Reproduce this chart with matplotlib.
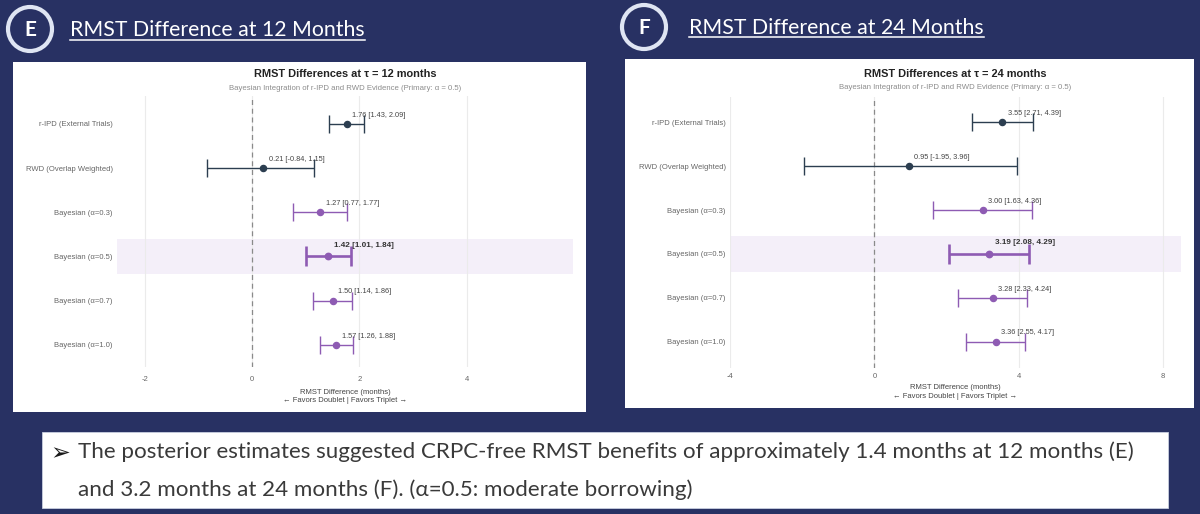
import matplotlib
matplotlib.use("Agg")
import matplotlib.pyplot as plt
from matplotlib.patches import Rectangle, Ellipse
from matplotlib.lines import Line2D
import numpy as np

plt.rcParams["axes.unicode_minus"] = False

# ---------------- data ----------------
categories = ["r-IPD (External Trials)", "RWD (Overlap Weighted)",
              "Bayesian (α=0.3)", "Bayesian (α=0.5)",
              "Bayesian (α=0.7)", "Bayesian (α=1.0)"]
source_type = ["data", "data", "bayes", "bayes", "bayes", "bayes"]
primary_idx = 3

est_12 = [1.76, 0.21, 1.27, 1.42, 1.50, 1.57]
lo_12 = [1.43, -0.84, 0.77, 1.01, 1.14, 1.26]
hi_12 = [2.09, 1.15, 1.77, 1.84, 1.86, 1.88]

est_24 = [3.55, 0.95, 3.00, 3.19, 3.28, 3.36]
lo_24 = [2.71, -1.95, 1.63, 2.08, 2.33, 2.55]
hi_24 = [4.39, 3.96, 4.36, 4.29, 4.24, 4.17]

xticks_12 = [-2, 0, 2, 4]
xticks_24 = [-4, 0, 4, 8]

heading_12 = "RMST Difference at 12 Months"
heading_24 = "RMST Difference at 24 Months"
title_12 = "RMST Differences at τ = 12 months"
title_24 = "RMST Differences at τ = 24 months"
subtitle = "Bayesian Integration of r-IPD and RWD Evidence (Primary: α = 0.5)"
xlabel = "RMST Difference (months)\n← Favors Doublet | Favors Triplet →"
bullet_line1 = "The posterior estimates suggested CRPC-free RMST benefits of approximately 1.4 months at 12 months (E)"
bullet_line2 = "and 3.2 months at 24 months (F). (α=0.5: moderate borrowing)"

# ---------------- style ----------------
W, H = 1200, 514
BG = "#283163"
DARK = "#2c3e50"
PURPLE = "#8e5bb3"
BAND = "#f4eff9"
CHART_FONT = ["Liberation Sans", "DejaVu Sans"]
SLIDE_FONT = ["Lato", "DejaVu Sans"]

fig = plt.figure(figsize=(W / 100, H / 100), dpi=100)
fig.patch.set_facecolor(BG)


def fx(x):
    return x / W


def fy(y):
    return 1 - y / H


def rect(x0, y0, x1, y1, **kw):
    fig.patches.append(Rectangle((fx(x0), fy(y1)), fx(x1) - fx(x0), fy(y0) - fy(y1),
                                 transform=fig.transFigure, **kw))


# white chart panels and text box (behind the axes)
rect(13, 62, 586, 412, facecolor="white", edgecolor="none", zorder=-2)
rect(625, 59, 1194, 408, facecolor="white", edgecolor="none", zorder=-2)
rect(42, 432, 1168, 508, facecolor="white", edgecolor="#c9cfe0", linewidth=0.6, zorder=-2)


def forest(ax_px, est, lo, hi, xlim, xticks, ylim, title, sub_off, title_off,
           xpad, lpad):
    x0, y0, x1, y1 = ax_px
    ax = fig.add_axes([fx(x0), fy(y1), fx(x1) - fx(x0), fy(y0) - fy(y1)])
    ax.set_facecolor("white")
    n = len(categories)
    y = np.arange(n)
    ax.axhspan(primary_idx - 0.4, primary_idx + 0.4, color=BAND, zorder=0, lw=0)
    ax.axvline(0, color="#8a8a8a", lw=0.9, ls=(0, (4, 3)), zorder=1)
    for i in range(n):
        prim = i == primary_idx
        c = DARK if source_type[i] == "data" else PURPLE
        ax.errorbar(est[i], y[i], xerr=[[est[i] - lo[i]], [hi[i] - est[i]]],
                    fmt="o", color=c, ecolor=c, ms=4.6 if prim else 4.4,
                    elinewidth=1.9 if prim else 1.0,
                    capsize=7 if prim else 6.5, capthick=1.9 if prim else 1.0,
                    zorder=3)
        ax.annotate(f"{est[i]:.2f} [{lo[i]:.2f}, {hi[i]:.2f}]",
                    xy=(est[i], y[i]), xytext=(4, 8.0 if prim else 6.3),
                    textcoords="offset points", ha="left", va="center",
                    fontsize=5.9 if prim else 5.3,
                    fontweight="bold" if prim else "normal",
                    color="#333333" if prim else "#444444", family=CHART_FONT)
    ax.set_xlim(*xlim)
    ax.set_ylim(*ylim)
    ax.set_xticks(xticks)
    ax.set_yticks(y)
    ax.set_yticklabels(categories)
    ax.grid(axis="x", color="#ebebeb", lw=0.8, zorder=0)
    ax.set_axisbelow(True)
    for s in ax.spines.values():
        s.set_visible(False)
    ax.tick_params(length=0, labelsize=5.5, labelcolor="#666666", pad=3)
    ax.tick_params(axis="x", pad=xpad)
    for lab in ax.get_xticklabels() + ax.get_yticklabels():
        lab.set_family(CHART_FONT)
    ax.set_xlabel(xlabel, fontsize=5.5, color="#444444", labelpad=lpad,
                  family=CHART_FONT, linespacing=1.35)
    ax.annotate(title, xy=(0.5, 1), xycoords="axes fraction",
                xytext=(0, title_off), textcoords="offset points",
                ha="center", va="center", fontsize=7.9, fontweight="bold",
                color="#222222", family=CHART_FONT)
    ax.annotate(subtitle, xy=(0.5, 1), xycoords="axes fraction",
                xytext=(0, sub_off), textcoords="offset points",
                ha="center", va="center", fontsize=5.6,
                color="#8c8c8c", family=CHART_FONT)
    return ax


forest((117, 96, 573, 367), est_12, lo_12, hi_12, (-2.52, 5.98), xticks_12,
       (5.5, -0.63), title_12, 5.2, 16.0, 6.5, 4.0)
forest((730, 97, 1181, 368), est_24, lo_24, hi_24, (-4.0, 8.5), xticks_24,
       (5.6, -0.58), title_24, 6.5, 16.5, 3.5, 3.0)

# ---------------- slide headings ----------------
renderer = fig.canvas.get_renderer()


def fit_width(t, target_px):
    bb = t.get_window_extent(renderer=renderer)
    t.set_fontsize(t.get_fontsize() * target_px / bb.width)
    return t.get_window_extent(renderer=renderer)


R = 22.0
for (cx, cy, letter, hx, hbase, text, wpx) in [
        (30, 29, "E", 70, 36.5, heading_12, 294),
        (644, 27, "F", 689, 34.0, heading_24, 293)]:
    fig.patches.append(Ellipse((fx(cx), fy(cy)), width=2 * R / W, height=2 * R / H,
                               transform=fig.transFigure, facecolor=BG,
                               edgecolor="#dfe5f3", lw=3.0, zorder=2))
    fig.text(fx(cx), fy(cy + 0.5), letter, ha="center", va="center", color="white",
             fontsize=15, fontweight="bold", family=SLIDE_FONT, zorder=3)
    ht = fig.text(fx(hx), fy(hbase), text, ha="left", va="baseline",
                  color="white", fontsize=17, family=SLIDE_FONT, zorder=3)
    bb = fit_width(ht, wpx)
    fig.lines.append(Line2D([fx(hx), fx(hx + bb.width)], [fy(hbase + 3.2)] * 2,
                            transform=fig.transFigure, color="white", lw=1.1))

# ---------------- bullet text ----------------
fig.text(fx(50), fy(453), "➢", ha="left", va="center", color="#1a1a1a",
         fontsize=17, family=["DejaVu Sans"])
b1 = fig.text(fx(78), fy(452), bullet_line1, ha="left", va="center",
              color="#3a3a3a", fontsize=15, family=SLIDE_FONT)
fit_width(b1, 1057)
fig.text(fx(78), fy(490), bullet_line2, ha="left", va="center",
         color="#3a3a3a", fontsize=b1.get_fontsize(), family=SLIDE_FONT)

fig.savefig("out.png", dpi=100, facecolor=BG)
